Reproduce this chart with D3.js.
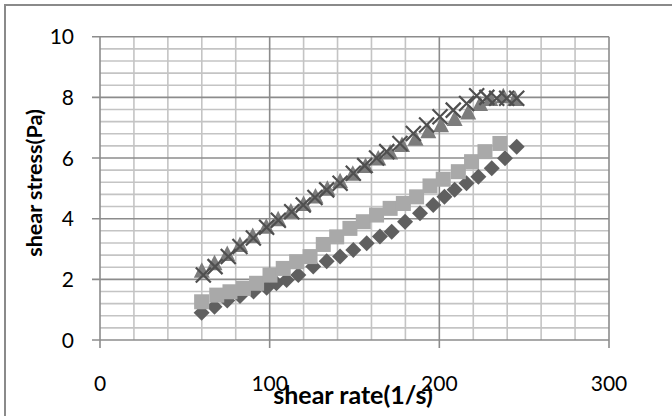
<!DOCTYPE html>
<html><head><meta charset="utf-8">
<script src="https://cdn.jsdelivr.net/npm/d3@7"></script>
<style>body{margin:0;background:#fff}svg{display:block}</style>
</head><body>
<svg id="c" width="672" height="416"></svg>
<script>
// Data
const xTicks = [0, 100, 200, 300];
const yTicks = [0, 2, 4, 6, 8, 10];
const diamondX = [59.9, 67.5, 75, 82.5, 90.5, 98.2, 104, 110, 116.9, 125.7, 133.6, 141.5, 149.3, 157.2, 165, 171.9, 179.8, 188.6, 196.4, 203, 209, 216, 223, 230.9, 238.7, 245.6];
const diamondY = [0.9, 1.1, 1.3, 1.45, 1.6, 1.72, 1.87, 1.98, 2.14, 2.42, 2.6, 2.75, 2.97, 3.19, 3.41, 3.57, 3.9, 4.18, 4.45, 4.72, 4.95, 5.17, 5.38, 5.66, 5.99, 6.37];
const squareX = [59.9, 68.8, 76.6, 84.5, 92.3, 100.2, 108, 115.9, 123.8, 131.6, 139.5, 147.3, 155.2, 163, 171, 178.8, 186.6, 194.5, 202.3, 211.2, 219, 226.9, 235.7];
const squareY = [1.26, 1.48, 1.59, 1.7, 1.87, 2.14, 2.36, 2.58, 2.75, 3.15, 3.4, 3.68, 3.9, 4.12, 4.34, 4.5, 4.72, 5.08, 5.3, 5.55, 5.88, 6.21, 6.48];
const triX = [60, 67.5, 75, 82.5, 90, 98, 105, 112.5, 120, 127, 134, 141.5, 149, 156.5, 164, 171, 178, 186, 193.5, 201, 209, 217, 224, 230, 237.7, 244.6];
const triY = [2.25, 2.5, 2.8, 3.1, 3.4, 3.7, 3.95, 4.2, 4.45, 4.7, 4.95, 5.2, 5.45, 5.7, 5.95, 6.15, 6.4, 6.6, 6.85, 7.05, 7.25, 7.47, 7.75, 7.91, 8.0, 7.91];
const crossX = [60.9, 67.8, 75.6, 82.5, 90.4, 98.2, 105.1, 113, 119.8, 126.7, 133.6, 141.5, 149.3, 156, 163, 169, 176.8, 184.7, 192.5, 200.4, 208.2, 216.1, 222, 228, 233.8, 239.7, 245.6];
const crossY = [2.14, 2.42, 2.75, 3.08, 3.36, 3.72, 3.95, 4.23, 4.45, 4.7, 4.95, 5.17, 5.5, 5.75, 6.0, 6.21, 6.48, 6.81, 7.09, 7.36, 7.58, 7.8, 8.05, 8.0, 7.97, 7.97, 7.97];
const xTitle = "shear rate(1/s)";
const yTitle = "shear stress(Pa)";

const svg = d3.select("#c");
const x = d3.scaleLinear().domain([0, 300]).range([100, 609]);
const y = d3.scaleLinear().domain([0, 10]).range([340, 36.7]);
const FONT = "Lato, 'Open Sans', sans-serif";

// outer frame (partial, as in the reference)
svg.append("path").attr("d", "M5,416 V5 H672").attr("fill", "none").attr("stroke", "#8a8a8a").attr("stroke-width", 2);

// minor grid
const g = svg.append("g");
d3.range(0, 301, 20).filter(v => v % 100 !== 0).forEach(v => {
  g.append("line").attr("x1", x(v)).attr("x2", x(v)).attr("y1", y(0)).attr("y2", y(10))
    .attr("stroke", "#c4c4c4").attr("stroke-width", 1.6);
});
d3.range(0, 10.01, 0.4).map(v => +v.toFixed(1)).filter(v => Math.abs(v / 2 - Math.round(v / 2)) > 1e-6).forEach(v => {
  g.append("line").attr("x1", x(0)).attr("x2", x(300)).attr("y1", y(v)).attr("y2", y(v))
    .attr("stroke", "#c4c4c4").attr("stroke-width", 1.6);
});
// major grid
yTicks.forEach(v => {
  g.append("line").attr("x1", x(0) - 8).attr("x2", x(300)).attr("y1", y(v)).attr("y2", y(v))
    .attr("stroke", "#8c8c8c").attr("stroke-width", 1.6);
});
xTicks.forEach(v => {
  g.append("line").attr("x1", x(v)).attr("x2", x(v)).attr("y1", y(10)).attr("y2", y(0) + 8)
    .attr("stroke", "#8c8c8c").attr("stroke-width", 1.6);
});

// tick labels
svg.append("g").selectAll("text").data(yTicks).join("text")
  .attr("x", 74).attr("y", d => y(d)).attr("dy", "0.36em").attr("text-anchor", "end")
  .attr("font-family", FONT).attr("font-size", 21).attr("fill", "#000").text(d => d);
svg.append("g").selectAll("text").data(xTicks).join("text")
  .attr("x", d => x(d)).attr("y", 391).attr("text-anchor", "middle")
  .attr("font-family", FONT).attr("font-size", 21).attr("fill", "#000").text(d => d);

// series
const zip = (a, b) => a.map((v, i) => [v, b[i]]);
const s = 8;
const diamondPath = `M0,${-s}L${s},0L0,${s}L${-s},0Z`;
svg.append("g").selectAll("path").data(zip(diamondX, diamondY)).join("path")
  .attr("transform", d => `translate(${x(d[0])},${y(d[1])})`).attr("d", diamondPath).attr("fill", "#5f5f5f");
svg.append("g").selectAll("rect").data(zip(squareX, squareY)).join("rect")
  .attr("x", d => x(d[0]) - 7.5).attr("y", d => y(d[1]) - 7.5).attr("width", 15).attr("height", 15).attr("fill", "#a9a9a9");
const triPath = `M0,-9.5L8,6L-8,6Z`;
svg.append("g").selectAll("path").data(zip(triX, triY)).join("path")
  .attr("transform", d => `translate(${x(d[0])},${y(d[1])})`).attr("d", triPath).attr("fill", "#7c7c7c");
const c = 7.5;
const crossPath = `M${-c},${-c}L${c},${c}M${c},${-c}L${-c},${c}`;
svg.append("g").selectAll("path").data(zip(crossX, crossY)).join("path")
  .attr("transform", d => `translate(${x(d[0])},${y(d[1])})`).attr("d", crossPath)
  .attr("fill", "none").attr("stroke", "#4f4f4f").attr("stroke-width", 2.2);

// axis titles
svg.append("text").attr("x", 353).attr("y", 404).attr("text-anchor", "middle")
  .attr("font-family", FONT).attr("font-weight", "bold").attr("font-size", 25).attr("fill", "#000").text(xTitle);
svg.append("text").attr("transform", "translate(42,183) rotate(-90)").attr("text-anchor", "middle")
  .attr("font-family", FONT).attr("font-weight", "bold").attr("font-size", 21.5).attr("fill", "#000").text(yTitle);
</script>
</body></html>
